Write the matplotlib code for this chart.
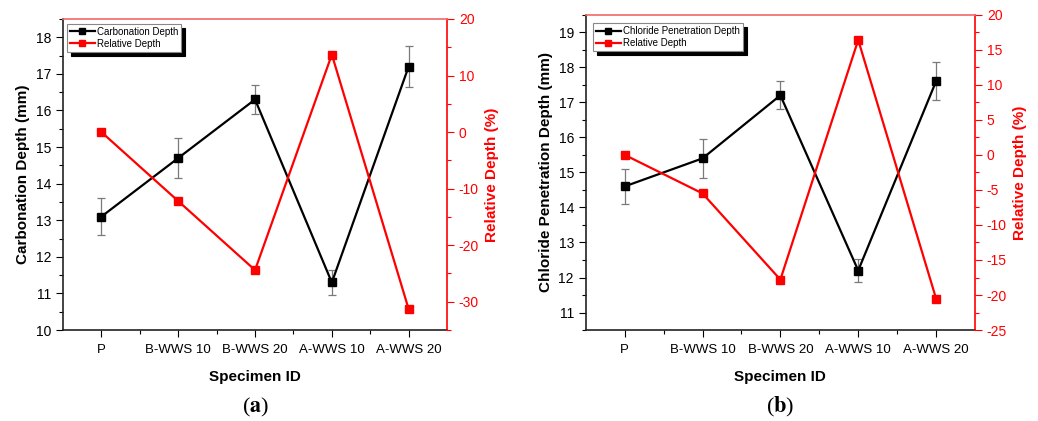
import matplotlib.pyplot as plt
from matplotlib.ticker import MultipleLocator, FixedLocator
from matplotlib.lines import Line2D

plt.rcParams['font.family'] = ['Liberation Sans', 'DejaVu Sans']
plt.rcParams['axes.unicode_minus'] = False
plt.rcParams['mathtext.fontset'] = 'stix'

specimens = ['P', 'B-WWS 10', 'B-WWS 20', 'A-WWS 10', 'A-WWS 20']
xpos = [1, 2, 3, 4, 5]

# (a) carbonation
carb_depth = [13.1, 14.7, 16.3, 11.3, 17.2]
carb_err = [0.5, 0.54, 0.4, 0.35, 0.55]
carb_rel = [0.0, -12.2, -24.4, 13.7, -31.3]

# (b) chloride penetration
chl_depth = [14.6, 15.4, 17.2, 12.2, 17.6]
chl_err = [0.5, 0.55, 0.4, 0.33, 0.54]
chl_rel = [0.0, -5.5, -17.8, 16.4, -20.5]

RED = '#ff0000'

fig = plt.figure(figsize=(10.38, 4.21), dpi=100)


def panel(rect, depth, err, rel, ylab, leg_label, ylim, ymaj, rlim, rmaj, leg_anchor, tag):
    ax = fig.add_axes(rect)
    ax.errorbar(xpos, depth, yerr=err, fmt='none', ecolor='#7a7a7a',
                elinewidth=0.9, capsize=2.6, capthick=0.9, zorder=2)
    ax.plot(xpos, depth, color='black', lw=1.6, marker='s', ms=5.5, zorder=3)
    ax.set_xlim(0.5, 5.5)
    ax.set_ylim(*ylim)
    ax.yaxis.set_major_locator(MultipleLocator(ymaj))
    ax.yaxis.set_minor_locator(MultipleLocator(ymaj / 2))
    ax.set_xticks(xpos)
    ax.set_xticklabels(specimens, fontsize=9.5)
    ax.xaxis.set_minor_locator(FixedLocator([1.5, 2.5, 3.5, 4.5]))
    ax.tick_params(axis='y', which='major', direction='out', length=5, width=0.8, labelsize=10)
    ax.tick_params(axis='y', which='minor', direction='out', length=3, width=0.8)
    ax.tick_params(axis='x', which='major', direction='out', length=5, width=0.8, pad=5)
    ax.tick_params(axis='x', which='minor', direction='out', length=3, width=0.8)
    ax.set_ylabel(ylab, fontsize=11, fontweight='bold', labelpad=4)
    ax.set_xlabel('Specimen ID', fontsize=11, fontweight='bold', labelpad=10)
    for s in ['left', 'bottom']:
        ax.spines[s].set_linewidth(1.2)
        ax.spines[s].set_color('#222222')

    ax2 = ax.twinx()
    ax2.plot(xpos, rel, color=RED, lw=1.6, marker='s', ms=5.5, zorder=3)
    ax2.set_ylim(*rlim)
    ax2.yaxis.set_major_locator(MultipleLocator(rmaj))
    ax2.yaxis.set_minor_locator(MultipleLocator(rmaj / 2))
    ax2.tick_params(axis='y', which='major', colors=RED, direction='out', length=5, width=0.8, labelsize=10)
    ax2.tick_params(axis='y', which='minor', colors=RED, direction='out', length=3, width=0.8)
    ax2.set_ylabel('Relative Depth (%)', color=RED, fontsize=11, fontweight='bold', labelpad=4)
    ax2.spines['right'].set_color(RED)
    ax2.spines['right'].set_linewidth(1.2)
    ax2.spines['top'].set_color('#f06a6a')
    ax2.spines['top'].set_linewidth(1.2)
    ax2.spines['left'].set_visible(False)
    ax2.spines['bottom'].set_visible(False)
    ax.spines['top'].set_visible(False)
    ax.spines['right'].set_visible(False)

    handles = [Line2D([], [], color='black', lw=1.6, marker='s', ms=4),
               Line2D([], [], color=RED, lw=1.6, marker='s', ms=4)]
    leg = ax2.legend(handles, [leg_label, 'Relative Depth'], loc='upper left',
                     bbox_to_anchor=leg_anchor, borderaxespad=0, fontsize=7,
                     handlelength=2.6, handletextpad=0.2, labelspacing=0.2,
                     borderpad=0.3, fancybox=False, framealpha=1,
                     edgecolor='#888888', numpoints=1,
                     shadow={'color': 'black', 'alpha': 1, 'ox': 3, 'oy': -3})
    leg.get_frame().set_linewidth(0.8)

    # panel caption, bold letter in parentheses
    cx = rect[0] + rect[2] / 2
    fig.text(cx, 0.033, '(' + r'$\mathbf{' + tag + '}$' + ')', fontsize=16,
             family='Liberation Serif', ha='center', va='center')
    return ax, ax2


panel([0.0607, 0.216, 0.370, 0.739], carb_depth, carb_err, carb_rel,
      'Carbonation Depth (mm)', 'Carbonation Depth', (10, 18.5), 1, (-35, 20), 10,
      (0.01, 0.984), 'a')
panel([0.5643, 0.216, 0.375, 0.749], chl_depth, chl_err, chl_rel,
      'Chloride Penetration Depth (mm)', 'Chloride Penetration Depth', (10.5, 19.5), 1, (-25, 20), 5,
      (0.018, 0.973), 'b')

fig.savefig('out.png', dpi=100)
